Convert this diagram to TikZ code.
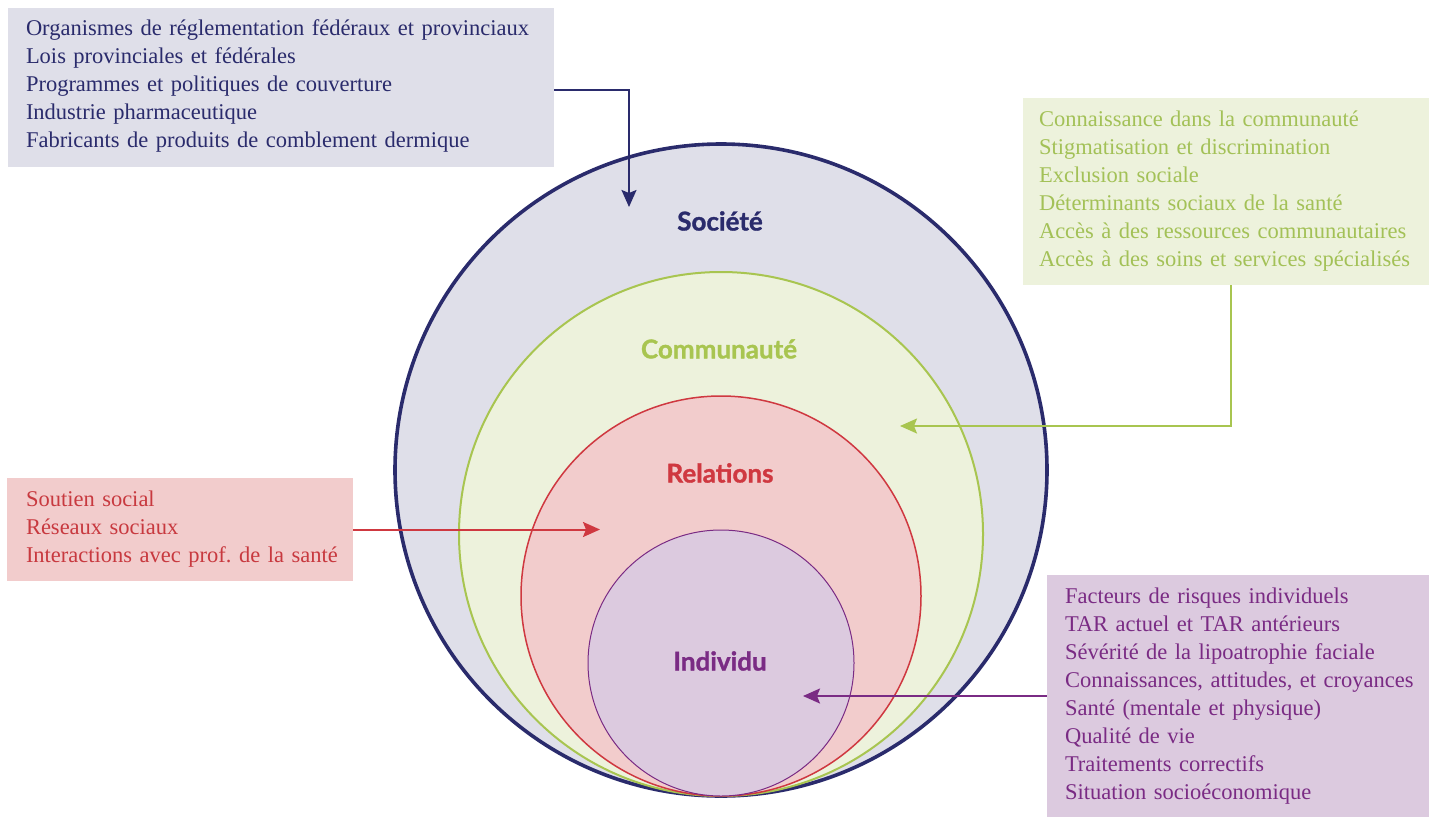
\documentclass[tikz,border=0pt]{standalone}
\usepackage{fontspec}
\setmainfont{Liberation Serif}
\newfontfamily\labfont{Lato}[BoldFeatures={FakeBold=1.2}]
\usetikzlibrary{arrows.meta}
\definecolor{navy}{HTML}{2A2B6C}
\definecolor{socfill}{HTML}{DFDFE9}
\definecolor{grn}{HTML}{A8C550}
\definecolor{grnfill}{HTML}{EDF2DC}
\definecolor{grntext}{HTML}{A3C157}
\definecolor{rd}{HTML}{CF3840}
\definecolor{rdfill}{HTML}{F2CCCC}
\definecolor{rdtext}{HTML}{C8393F}
\definecolor{prp}{HTML}{7A2B84}
\definecolor{prpfill}{HTML}{DCCADF}
\newcommand\boxindent[1]{\leftskip=#1\relax}
\tikzset{
  ring/.style={circle, inner sep=0pt, outer sep=0pt},
  ringlabel/.style={font=\labfont\bfseries\fontsize{26}{30}\selectfont},
  textbox/.style={rectangle, anchor=north west, inner xsep=8pt, inner ysep=0pt, outer sep=0pt,
    align=left, font=\fontsize{22.5}{28}\selectfont},
  conn/.style={line width=2pt, -{Stealth[length=17pt,width=15pt,inset=3pt]}}
}
\begin{document}
\begin{tikzpicture}[x=1pt,y=-1pt]
\useasboundingbox (0,0) rectangle (1429,817);
% circles
\node[ring, minimum size=652pt, fill=socfill, draw=navy, line width=3.6pt] (soc) at (721,470) {};
\node[ring, minimum size=524pt, fill=grnfill, draw=grn, line width=2pt] (com) at (721,534) {};
\node[ring, minimum size=400pt, fill=rdfill, draw=rd, line width=1.5pt] (rel) at (721,596) {};
\node[ring, minimum size=266pt, fill=prpfill, draw=prp, line width=1pt] (ind) at (721,663) {};
% labels
\node[ringlabel, text=navy] (lsoc) at (720,221) {Société};
\node[ringlabel, text=grn] (lcom) at (719,349) {Communauté};
\node[ringlabel, text=rd] (lrel) at (720,473) {Relations};
\node[ringlabel, text=prp] (lind) at (720,661) {Individu};
% boxes
\node[textbox, fill=socfill, text=navy, minimum width=546pt, minimum height=159pt, text width=530pt] (sbox) at (8,8)
 {\boxindent{10pt}Organismes de réglementation fédéraux et provinciaux\\Lois provinciales et fédérales\\Programmes et politiques de couverture\\Industrie pharmaceutique\\Fabricants de produits de comblement dermique\par\vspace*{4pt}};
\node[textbox, fill=grnfill, text=grntext, minimum width=406pt, minimum height=187pt, text width=390pt] (cbox) at (1023,98)
 {\boxindent{8pt}Connaissance dans la communauté\\Stigmatisation et discrimination\\Exclusion sociale\\Déterminants sociaux de la santé\\Accès à des ressources communautaires\\Accès à des soins et services spécialisés\par};
\node[textbox, fill=rdfill, text=rdtext, minimum width=346pt, minimum height=103pt, text width=330pt] (rbox) at (7,478)
 {\boxindent{11pt}Soutien social\\Réseaux sociaux\\Interactions avec prof.\ de la santé\par};
\node[textbox, fill=prpfill, text=prp, minimum width=382pt, minimum height=242pt, text width=366pt] (ibox) at (1047,575)
 {\boxindent{10pt}Facteurs de risques individuels\\TAR actuel et TAR antérieurs\\Sévérité de la lipoatrophie faciale\\Connaissances, attitudes, et croyances\\Santé (mentale et physique)\\Qualité de vie\\Traitements correctifs\\Situation socioéconomique\par};
% connector end points
\coordinate (sa) at (629,207);
\coordinate (ct) at (1231,426);
\coordinate (ca) at (900,426);
\coordinate (ra) at (600,527);
\coordinate (ia) at (803,694);
% connectors
\draw[conn, draw=navy] ([yshift=-2.5pt]sbox.east) -| (sa);
\draw[conn, draw=grn] (cbox.south -| ct) -- (ct) -- (ca);
\draw[conn, draw=rd] (rbox.east) -- (rbox.east -| ra);
\draw[conn, draw=prp] (ibox.west) -- (ibox.west -| ia);
\end{tikzpicture}
\end{document}
